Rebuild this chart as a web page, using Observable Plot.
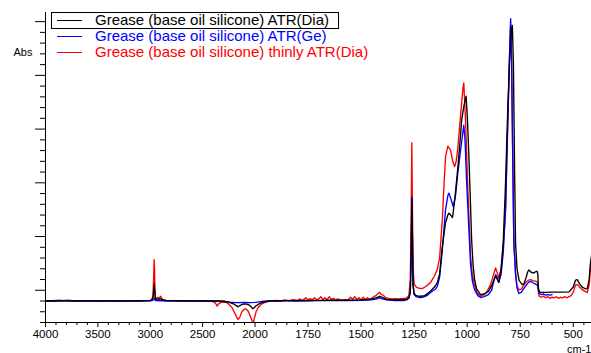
<!DOCTYPE html>
<html>
<head>
<meta charset="utf-8">
<script src="https://cdn.jsdelivr.net/npm/d3@7"></script>
<script src="https://cdn.jsdelivr.net/npm/@observablehq/plot@0.6"></script>
<style>
  html, body { margin: 0; padding: 0; background: #fff; }
  #wrap { position: relative; width: 591px; height: 353px; overflow: hidden; font-family: "Liberation Sans", Arial, sans-serif; }
  .leg { position: absolute; left: 0; height: 16px; font-size: 15px; line-height: 16px; white-space: nowrap; }
  .leg .sw { position: absolute; left: 57px; top: 8px; width: 25px; height: 0; border-top: 1.3px solid; }
  .leg .tx { position: absolute; left: 95px; top: 0; }
  #box { position: absolute; left: 51px; top: 12px; width: 286px; height: 15px; border: 1px solid #000; background: #fff; }
</style>
</head>
<body>
<div id="wrap">
  <div id="chart"></div>
</div>
<script>
// ---- series names / colours ----
const seriesNames = [
  "Grease (base oil silicone) ATR(Dia)",
  "Grease (base oil silicone) ATR(Ge)",
  "Grease (base oil silicone) thinly ATR(Dia)"
];
const seriesColors = ["#000000", "#0000ff", "#ff0000"];

// ---- axis ticks ----
const xMajorTicks = [4000, 3500, 3000, 2500, 2000, 1750, 1500, 1250, 1000, 750, 500];
const xMinorTicks = [3900, 3800, 3700, 3600, 3400, 3300, 3200, 3100, 2900, 2800, 2700, 2600,
  2400, 2300, 2200, 2100, 1950, 1900, 1850, 1800, 1700, 1650, 1600, 1550, 1450, 1400, 1350, 1300,
  1200, 1150, 1100, 1050, 950, 900, 850, 800, 700, 650, 600, 550, 450];
const yMajorTicks = [0, 0.5, 1.0, 1.5, 2.0, 2.5];
const yMinorTicks = [-0.3, -0.2, -0.1, 0.1, 0.2, 0.3, 0.4, 0.6, 0.7, 0.8, 0.9, 1.1, 1.2, 1.3, 1.4,
  1.6, 1.7, 1.8, 1.9, 2.1, 2.2, 2.3, 2.4];
const xDomain = [4000, 2000, 414];   // piecewise: scale doubles below 2000 cm-1
const yDomain = [-0.3, 2.585];

// ---- spectra: [wavenumber cm-1, absorbance] ----
const blackSpectrum = [
  [4000,-0.100],[3950,-0.098],[3900,-0.101],[3850,-0.097],[3800,-0.099],[3750,-0.098],[3700,-0.100],
  [3600,-0.099],[3500,-0.100],[3400,-0.099],[3300,-0.100],[3200,-0.099],[3100,-0.098],[3050,-0.097],
  [3000,-0.095],[2985,-0.090],[2972,-0.060],[2966,0.000],[2962,0.059],[2958,0.020],[2953,-0.060],
  [2945,-0.085],[2930,-0.080],[2915,-0.085],[2900,-0.080],[2880,-0.090],[2850,-0.095],[2800,-0.097],
  [2700,-0.098],[2600,-0.099],[2500,-0.100],[2400,-0.100],[2300,-0.102],[2250,-0.110],[2200,-0.130],
  [2175,-0.145],[2160,-0.154],[2140,-0.140],[2120,-0.130],[2090,-0.126],[2060,-0.135],[2040,-0.150],
  [2020,-0.172],[2010,-0.165],[1995,-0.145],[1980,-0.125],[1960,-0.110],[1930,-0.100],[1900,-0.098],
  [1850,-0.097],[1800,-0.096],[1750,-0.095],[1700,-0.094],[1650,-0.093],[1600,-0.093],[1550,-0.092],
  [1500,-0.090],[1460,-0.085],[1430,-0.070],[1412,-0.056],[1395,-0.070],[1380,-0.085],[1350,-0.090],
  [1320,-0.088],[1300,-0.086],[1285,-0.082],[1275,-0.070],[1268,-0.020],[1264,0.300],[1261,0.850],
  [1258,0.500],[1255,0.050],[1250,-0.030],[1240,-0.050],[1230,-0.055],[1220,-0.056],[1200,-0.050],
  [1173,-0.009],[1150,0.040],[1141,0.071],[1130,0.150],[1117,0.408],[1102,0.628],[1091,0.700],
  [1086,0.718],[1078,0.700],[1069,0.677],[1058,0.850],[1045,1.120],[1035,1.350],[1026,1.583],
  [1015,1.720],[1005,1.806],[999,1.600],[993,1.305],[986,0.900],[979,0.470],[972,0.230],[965,0.099],
  [955,0.010],[937,-0.040],[920,-0.035],[900,-0.010],[885,0.040],[875,0.090],[866,0.130],[858,0.100],
  [851,0.074],[840,0.200],[830,0.450],[820,0.950],[810,1.600],[800,2.150],[792,2.420],[787,2.465],
  [782,2.100],[777,1.200],[772,0.440],[765,0.200],[755,0.090],[740,0.053],[732,0.060],[722,0.120],
  [715,0.170],[709,0.190],[700,0.170],[686,0.160],[676,0.175],[670,0.176],[667,0.150],[664,0.020],
  [660,-0.010],[654,-0.019],[630,-0.019],[600,-0.018],[560,-0.018],[520,-0.015],[500,0.030],
  [489,0.095],[481,0.099],[470,0.060],[458,0.030],[442,0.013],[434,0.015],[425,0.100],[419,0.250],
  [414,0.320]
];
const blueSpectrum = [
  [4000,-0.100],[3960,-0.097],[3940,-0.102],[3920,-0.095],[3900,-0.100],[3880,-0.093],[3860,-0.100],
  [3840,-0.094],[3820,-0.099],[3800,-0.092],[3780,-0.100],[3760,-0.095],[3740,-0.100],[3700,-0.098],
  [3600,-0.100],[3500,-0.100],[3400,-0.100],[3300,-0.100],[3200,-0.100],[3100,-0.100],[3000,-0.099],
  [2980,-0.095],[2966,-0.085],[2961,-0.070],[2956,-0.088],[2945,-0.097],[2900,-0.098],[2800,-0.100],
  [2600,-0.100],[2400,-0.100],[2300,-0.102],[2250,-0.110],[2200,-0.114],[2150,-0.115],[2100,-0.114],
  [2050,-0.115],[2000,-0.112],[1970,-0.105],[1940,-0.100],[1900,-0.100],[1850,-0.099],[1800,-0.100],
  [1750,-0.098],[1700,-0.097],[1650,-0.096],[1600,-0.096],[1550,-0.095],[1500,-0.094],[1450,-0.090],
  [1425,-0.080],[1412,-0.070],[1400,-0.080],[1380,-0.090],[1340,-0.095],[1300,-0.096],[1285,-0.090],
  [1275,-0.075],[1268,-0.020],[1264,0.300],[1261,0.872],[1258,0.500],[1255,0.050],[1250,-0.040],
  [1240,-0.060],[1225,-0.068],[1210,-0.065],[1190,-0.050],[1173,-0.021],[1150,0.010],[1141,0.034],
  [1130,0.120],[1117,0.378],[1102,0.749],[1091,0.880],[1086,0.904],[1078,0.860],[1066,0.779],
  [1055,0.880],[1045,1.073],[1031,1.305],[1016,1.536],[1010,1.400],[1003,1.027],[995,0.700],
  [984,0.238],[975,0.080],[965,0.006],[950,-0.050],[937,-0.068],[920,-0.060],[900,-0.040],[885,0.000],
  [875,0.080],[866,0.146],[858,0.120],[851,0.074],[840,0.150],[830,0.350],[819,0.749],[811,1.370],
  [803,1.985],[798,2.350],[795,2.527],[791,2.200],[785,1.200],[780,0.443],[772,0.150],[765,0.020],
  [756,-0.030],[745,-0.020],[735,0.010],[720,0.050],[710,0.075],[701,0.083],[690,0.070],[680,0.060],
  [670,0.050],[667,0.030],[664,0.000],[660,-0.030],[650,-0.040],[640,-0.035],[630,-0.045],[620,-0.040],
  [610,-0.045],[600,-0.040]
];
const redSpectrum = [
  [4000,-0.100],[3950,-0.096],[3930,-0.103],[3900,-0.094],[3880,-0.100],[3860,-0.092],[3840,-0.101],
  [3820,-0.095],[3800,-0.100],[3780,-0.093],[3760,-0.100],[3740,-0.096],[3700,-0.100],[3650,-0.098],
  [3600,-0.100],[3550,-0.097],[3500,-0.100],[3400,-0.099],[3300,-0.100],[3200,-0.098],[3100,-0.099],
  [3050,-0.097],[3000,-0.095],[2985,-0.090],[2975,-0.050],[2968,0.100],[2963,0.285],[2959,0.200],
  [2955,0.000],[2950,-0.070],[2940,-0.080],[2925,-0.065],[2915,-0.075],[2900,-0.056],[2890,-0.080],
  [2870,-0.090],[2850,-0.095],[2800,-0.097],[2700,-0.099],[2600,-0.100],[2500,-0.100],[2420,-0.100],
  [2390,-0.110],[2370,-0.130],[2362,-0.148],[2350,-0.130],[2330,-0.115],[2300,-0.110],[2270,-0.115],
  [2250,-0.130],[2220,-0.160],[2190,-0.220],[2170,-0.260],[2160,-0.272],[2145,-0.250],[2125,-0.200],
  [2100,-0.175],[2085,-0.173],[2065,-0.195],[2045,-0.240],[2030,-0.280],[2015,-0.297],[2005,-0.260],
  [1995,-0.200],[1985,-0.160],[1970,-0.130],[1950,-0.110],[1930,-0.100],[1900,-0.095],[1880,-0.100],
  [1860,-0.090],[1840,-0.097],[1820,-0.088],[1800,-0.095],[1790,-0.080],[1780,-0.093],[1770,-0.085],
  [1760,-0.070],[1750,-0.090],[1740,-0.078],[1730,-0.090],[1720,-0.070],[1710,-0.088],[1700,-0.080],
  [1690,-0.060],[1680,-0.085],[1670,-0.070],[1660,-0.090],[1650,-0.060],[1640,-0.085],[1630,-0.075],
  [1620,-0.090],[1610,-0.080],[1600,-0.090],[1580,-0.088],[1560,-0.085],[1550,-0.065],[1540,-0.085],
  [1530,-0.060],[1520,-0.085],[1510,-0.070],[1500,-0.090],[1490,-0.065],[1480,-0.085],[1470,-0.070],
  [1460,-0.085],[1450,-0.075],[1440,-0.060],[1430,-0.050],[1420,-0.030],[1412,-0.020],[1405,-0.040],
  [1395,-0.045],[1385,-0.070],[1370,-0.075],[1355,-0.080],[1340,-0.078],[1320,-0.080],[1300,-0.077],
  [1285,-0.070],[1275,-0.050],[1268,0.100],[1264,0.700],[1261,1.373],[1258,0.800],[1255,0.200],
  [1250,0.060],[1240,0.030],[1225,0.018],[1212,0.016],[1195,0.035],[1173,0.071],[1155,0.130],
  [1141,0.192],[1130,0.300],[1117,0.656],[1110,0.950],[1102,1.243],[1091,1.342],[1078,1.305],
  [1068,1.200],[1059,1.150],[1052,1.200],[1045,1.305],[1031,1.630],[1020,1.880],[1016,1.930],
  [1008,1.600],[1000,1.120],[992,0.700],[984,0.315],[976,0.150],[968,0.071],[955,-0.020],[937,-0.056],
  [920,-0.040],[909,-0.020],[890,0.050],[875,0.150],[866,0.208],[858,0.160],[851,0.115],[840,0.200],
  [830,0.400],[819,0.760],[811,1.380],[803,1.990],[798,2.330],[795,2.470],[791,2.150],[785,1.200],
  [780,0.440],[772,0.160],[765,0.040],[756,0.005],[745,0.010],[735,0.040],[720,0.080],[710,0.095],
  [701,0.099],[690,0.090],[680,0.085],[670,0.080],[667,0.060],[664,-0.030],[660,-0.056],[650,-0.065],
  [640,-0.055],[630,-0.070],[620,-0.060],[610,-0.075],[600,-0.065],[590,-0.070],[580,-0.060],
  [570,-0.075],[560,-0.065],[550,-0.070],[540,-0.060],[530,-0.070],[520,-0.060],[510,-0.050],
  [500,-0.020],[489,0.050],[481,0.053],[470,0.030],[458,0.006],[445,-0.010],[434,-0.021],[425,0.050],
  [419,0.200],[414,0.300]
];

const spectra = [blackSpectrum, blueSpectrum, redSpectrum];
const drawOrder = [2, 1, 0];   // red first, black on top
const rows = (s) => s.map(([wn, abs]) => ({wn, abs}));

const W = 591, H = 353, mL = 45, mT = 12, mB = 31;
const chart = Plot.plot({
  width: W,
  height: H,
  marginLeft: mL,
  marginRight: 0,
  marginTop: mT,
  marginBottom: mB,
  style: {fontFamily: '"Liberation Sans", Arial, sans-serif', fontSize: "11.5px", color: "#000", background: "transparent", overflow: "visible"},
  x: {type: "linear", domain: xDomain, range: [mL, 254.5, W], label: null},
  y: {domain: yDomain, range: [H - mB, mT], label: null},
  marks: [
    Plot.axisX(xMinorTicks, {tickSize: 3, tickFormat: () => "", label: null}),
    Plot.axisX(xMajorTicks, {tickSize: 5, tickPadding: 2, tickFormat: (d) => String(d), label: null}),
    Plot.axisY(yMinorTicks, {tickSize: 5, tickFormat: () => "", label: null}),
    Plot.axisY(yMajorTicks, {tickSize: 10, tickFormat: () => "", label: null}),
    Plot.ruleX([xDomain[0]], {stroke: "#000"}),
    Plot.ruleY([yDomain[0]], {stroke: "#000"}),
    ...drawOrder.map((i) => Plot.line(rows(spectra[i]), {x: "wn", y: "abs", stroke: seriesColors[i], strokeWidth: 1.35, clip: true})),
    Plot.text(["Abs"], {frameAnchor: "top-left", textAnchor: "start", dx: -32, dy: 36, fontSize: 11}),
    Plot.text(["cm-1"], {frameAnchor: "bottom-right", textAnchor: "end", lineAnchor: "bottom", dx: 0, dy: 30, fontSize: 11})
  ]
});
const wrap = document.getElementById("wrap");
wrap.insertBefore(chart, wrap.firstChild);
chart.style.position = "absolute";
chart.style.left = "0";
chart.style.top = "0";

// legend (inside the plot, top left)
const box = document.createElement("div");
box.id = "box";
wrap.appendChild(box);
seriesNames.forEach((name, i) => {
  const row = document.createElement("div");
  row.className = "leg";
  row.style.top = (12 + i * 16) + "px";
  row.style.width = "591px";
  const sw = document.createElement("span");
  sw.className = "sw";
  sw.style.borderTopColor = seriesColors[i];
  const tx = document.createElement("span");
  tx.className = "tx";
  tx.style.color = seriesColors[i];
  tx.textContent = name;
  row.appendChild(sw);
  row.appendChild(tx);
  wrap.appendChild(row);
});
</script>
</body>
</html>
